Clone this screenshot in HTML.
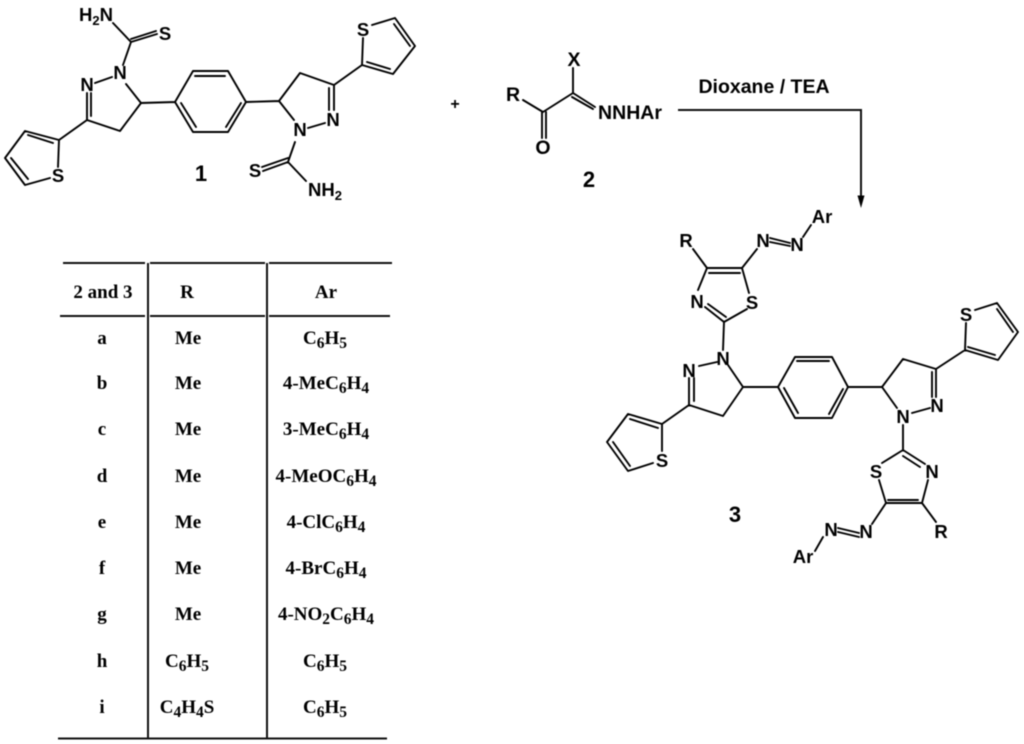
<!DOCTYPE html>
<html>
<head>
<meta charset="utf-8">
<style>
html,body{margin:0;padding:0;background:#fff;width:1024px;height:744px;overflow:hidden}
svg{display:block;filter:blur(0.45px)}
.b{fill:none;stroke:#000;stroke-width:1.9;stroke-linecap:round;stroke-linejoin:round}
.t{stroke:#111;stroke-width:2;fill:none}
.s{font-family:"Liberation Sans",sans-serif;font-weight:bold;font-size:18.5px;fill:#000;text-anchor:middle}
.r{font-size:19.5px}
.n{font-size:22px}
.p{font-family:"Liberation Serif",serif;font-weight:bold;font-size:19px;fill:#000;text-anchor:middle}
.p tspan.u{font-size:15.5px}
.s tspan.u{font-size:13px}
</style>
</head>
<body>
<svg width="1024" height="744" viewBox="0 0 1024 744" xmlns="http://www.w3.org/2000/svg">
<!-- Compound 1 -->
<path class="b" d="M113 23L131 42L157 34M131 39L156 31M131 42L123 65M112 77L95 83M87 93V120M91 93V116M87 120L120 131L141 103L126 84M141 103L175 102L193 71H228L246 102L228 132H193L175 102M195 76H225M181 103L196 127M241 103L226 127M246 102L279 101L300 73L334 85V110M329 88V110M279 101L294 120M325 123L308 128M295 142L288 162L263 171M288 158L262 167M288 162L306 181M334 85L362 65L393 74L415 46L395 18L372 25M362 65L363 38M367 62L390 69M410 46L394 24M87 120L59 140L25 131L5 158L25 185L50 178M59 140L58 167M53 143L28 135M11 158L28 179"/>
<text class="s" x="96" y="21">H<tspan class="u" dy="4">2</tspan><tspan dy="-4">N</tspan></text>
<text class="s" x="165" y="40">S</text>
<text class="s" x="120" y="79">N</text>
<text class="s" x="87" y="91">N</text>
<text class="s" x="58" y="182">S</text>
<text class="s" x="363" y="36">S</text>
<text class="s" x="333" y="126">N</text>
<text class="s" x="300" y="136">N</text>
<text class="s" x="255" y="177">S</text>
<text class="s" x="325" y="196">NH<tspan class="u" dy="4">2</tspan></text>
<text class="s n" x="201" y="181">1</text>
<!-- Plus -->
<text class="s" x="455" y="109" style="font-size:16px">+</text>
<!-- Compound 2 -->
<path class="b" d="M573 68V93M523 100L543 112L573 93L595 107M572 97L593 109M542 112V138M546 112V138"/>
<text class="s r" x="574" y="66">X</text>
<text class="s r" x="513" y="101">R</text>
<text class="s r" x="543" y="154">O</text>
<text class="s r" x="630" y="119">NNHAr</text>
<text class="s n" x="589" y="187">2</text>
<!-- Reaction arrow -->
<text class="s r" x="764" y="93">Dioxane / TEA</text>
<path class="t" d="M678 110H862M861 110V197"/>
<path d="M857.500 195.500H864.500L861 208Z" fill="#000"/>
<!-- Compound 3 -->
<path class="b" d="M693 249L707 268H742L749 293M709 273H740M707 268L698 290M705 307L724 322L747 309M708 304L726 317M742 268L757 249M770 238L790 243M770 242L790 246M803 237L811 225M724 322L723 350M717 362L699 366M689 378V405M694 378V401M689 405L723 416L743 387L728 365M743 387L778 387L795 357H832L848 387L832 418H795L778 387M797 361H829M843 389L829 414M784 388L798 413M848 387L882 387L903 359L936 369V397M932 372V397M882 387L897 408M930 408L912 413M903 425V450L882 463M903 450L925 464M903 456L920 467M928 480L922 503H886L879 480M888 500H918M922 503L936 522M886 503L872 524M838 528L859 533M838 532L859 537M823 537L815 551M936 369L965 350L998 360L1018 332L997 303L975 310M965 350L966 323M968 347L995 355M1013 332L997 309M689 405L662 424L628 414L607 442L628 471L653 463M662 424L662 451M658 428L630 419M613 442L630 466"/>
<text class="s" x="686" y="247">R</text>
<text class="s" x="763" y="247">N</text>
<text class="s" x="797" y="251">N</text>
<text class="s" x="822" y="223">Ar</text>
<text class="s" x="697" y="308">N</text>
<text class="s" x="752" y="309">S</text>
<text class="s" x="723" y="365">N</text>
<text class="s" x="689" y="377">N</text>
<text class="s" x="662" y="467">S</text>
<text class="s" x="966" y="321">S</text>
<text class="s" x="937" y="412">N</text>
<text class="s" x="903" y="423">N</text>
<text class="s" x="876" y="478">S</text>
<text class="s" x="932" y="478">N</text>
<text class="s" x="941" y="538">R</text>
<text class="s" x="866" y="538">N</text>
<text class="s" x="831" y="536">N</text>
<text class="s" x="803" y="563">Ar</text>
<text class="s n" x="735" y="522">3</text>
<!-- Table -->
<path class="t" d="M63 263H145M150 263H265M269 263H392M60 316H145M150 316H265M269 316H390M58 738.500H387M148 263V738M267 263V738"/>
<text class="p" x="103" y="298">2 and 3</text>
<text class="p" x="187" y="298">R</text>
<text class="p" x="326" y="298">Ar</text>

<text class="p" x="102" y="344">a</text>
<text class="p" x="188" y="344">Me</text>
<text class="p" x="325" y="344">C<tspan class="u" dy="4">6</tspan><tspan dy="-4">H</tspan><tspan class="u" dy="4">5</tspan></text>

<text class="p" x="102" y="389">b</text>
<text class="p" x="188" y="389">Me</text>
<text class="p" x="326" y="389">4-MeC<tspan class="u" dy="4">6</tspan><tspan dy="-4">H</tspan><tspan class="u" dy="4">4</tspan></text>

<text class="p" x="102" y="435">c</text>
<text class="p" x="188" y="435">Me</text>
<text class="p" x="326" y="435">3-MeC<tspan class="u" dy="4">6</tspan><tspan dy="-4">H</tspan><tspan class="u" dy="4">4</tspan></text>

<text class="p" x="102" y="482">d</text>
<text class="p" x="188" y="482">Me</text>
<text class="p" x="326" y="482">4-MeOC<tspan class="u" dy="4">6</tspan><tspan dy="-4">H</tspan><tspan class="u" dy="4">4</tspan></text>

<text class="p" x="102" y="528">e</text>
<text class="p" x="188" y="528">Me</text>
<text class="p" x="326" y="528">4-ClC<tspan class="u" dy="4">6</tspan><tspan dy="-4">H</tspan><tspan class="u" dy="4">4</tspan></text>

<text class="p" x="102" y="574">f</text>
<text class="p" x="188" y="574">Me</text>
<text class="p" x="326" y="574">4-BrC<tspan class="u" dy="4">6</tspan><tspan dy="-4">H</tspan><tspan class="u" dy="4">4</tspan></text>

<text class="p" x="102" y="620">g</text>
<text class="p" x="188" y="620">Me</text>
<text class="p" x="326" y="620">4-NO<tspan class="u" dy="4">2</tspan><tspan dy="-4">C</tspan><tspan class="u" dy="4">6</tspan><tspan dy="-4">H</tspan><tspan class="u" dy="4">4</tspan></text>

<text class="p" x="102" y="667">h</text>
<text class="p" x="187" y="667">C<tspan class="u" dy="4">6</tspan><tspan dy="-4">H</tspan><tspan class="u" dy="4">5</tspan></text>
<text class="p" x="325" y="667">C<tspan class="u" dy="4">6</tspan><tspan dy="-4">H</tspan><tspan class="u" dy="4">5</tspan></text>

<text class="p" x="102" y="713">i</text>
<text class="p" x="187" y="713">C<tspan class="u" dy="4">4</tspan><tspan dy="-4">H</tspan><tspan class="u" dy="4">4</tspan><tspan dy="-4">S</tspan></text>
<text class="p" x="325" y="713">C<tspan class="u" dy="4">6</tspan><tspan dy="-4">H</tspan><tspan class="u" dy="4">5</tspan></text>
</svg>
</body>
</html>
